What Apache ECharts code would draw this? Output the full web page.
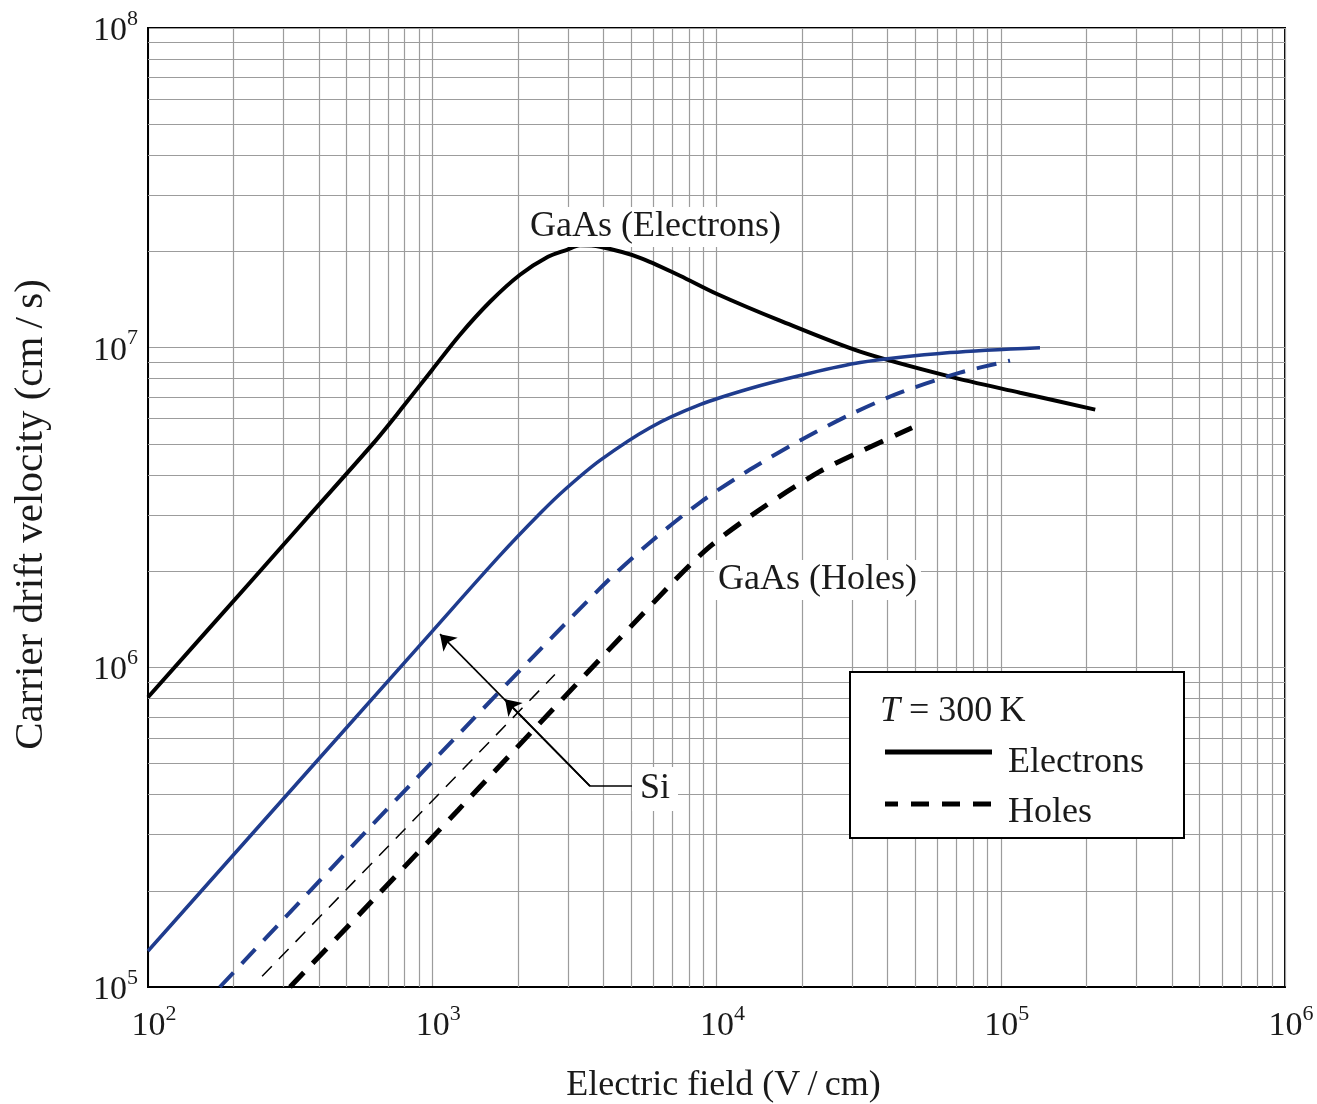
<!DOCTYPE html>
<html>
<head>
<meta charset="utf-8">
<script src="https://cdn.jsdelivr.net/npm/echarts@6/dist/echarts.min.js"></script>
<style>
  html, body { margin: 0; padding: 0; background: #fff; }
  #chart { width: 1317px; height: 1104px; }
</style>
</head>
<body>
<div id="chart"></div>
<script>
// Carrier drift velocity (cm/s) versus electric field (V/cm) at T = 300 K

// GaAs electrons
const gaasElectronField    = [100, 228.5, 372, 619, 770, 1000, 1252, 1597, 2036, 2554, 2979, 3310, 3892, 5381, 7440, 1e4, 1.673e4, 3.2e4, 6.63e4, 1.17e5, 2.15e5];
const gaasElectronVelocity = [8.06e5, 1.843e6, 3.007e6, 5.01e6, 6.356e6, 8.536e6, 1.098e7, 1.392e7, 1.691e7, 1.925e7, 2.024e7, 2.09e7, 2.068e7, 1.911e7, 1.679e7, 1.475e7, 1.215e7, 9.72e6, 8.12e6, 7.23e6, 6.40e6];

// Si electrons
const siElectronField    = [100, 1000, 1731, 2393, 2931, 3892, 5835, 8750, 1.312e4, 1.97e4, 3.2e4, 6.63e4, 1.374e5];
const siElectronVelocity = [1.296e5, 1.296e6, 2.239e6, 3.028e6, 3.6e6, 4.44e6, 5.62e6, 6.63e6, 7.45e6, 8.18e6, 8.98e6, 9.65e6, 1.0e7];

// Si holes
const siHoleField    = [179, 835, 3892, 5835, 8750, 1.312e4, 1.967e4, 2.949e4, 4.422e4, 7.19e4, 1.078e5];
const siHoleVelocity = [1e5, 4.28e5, 1.766e6, 2.458e6, 3.278e6, 4.156e6, 5.12e6, 6.175e6, 7.23e6, 8.35e6, 9.11e6];

// GaAs holes
const gaasHoleField    = [316, 614, 1232, 6750, 9490, 1.422e4, 2.313e4, 3.2e4, 4.873e4];
const gaasHoleVelocity = [1e5, 1.857e5, 3.574e5, 1.778e6, 2.389e6, 3.117e6, 4.1e6, 4.73e6, 5.62e6];

// thin dashed guide line
const guideField    = [252, 2700];
const guideVelocity = [1.08e5, 9.5e5];

// "Si" leader: label end -> bend, then bend -> arrow tips on the two Si curves
const siLabelEnd = [5300, 4.25e5];
const siBend     = [3590, 4.25e5];
const siTips     = [[1065, 1.27e6], [1803, 7.94e5]];

// axis decades and intermediate grid values
const xDecades = [2, 3, 4, 5, 6];
const yDecades = [5, 6, 7, 8];
const gridMantissas = [2, 3, 4, 5, 6, 7, 8, 9];

const FONT = "'Liberation Serif', 'DejaVu Serif', serif";
const TEXT = '#1a1a1a';
const BLUE = '#1f3c8e';
const GRID = '#9c9c9c';
const THIN = '\u2009';

const zip = (xs, ys) => xs.map((x, i) => [x, ys[i]]);

const xMinor = [], yMinor = [];
xDecades.slice(0, -1).forEach(d => gridMantissas.forEach(m => xMinor.push({ xAxis: m * Math.pow(10, d) })));
yDecades.slice(0, -1).forEach(d => gridMantissas.forEach(m => yMinor.push({ yAxis: m * Math.pow(10, d) })));

const xPowLabel = v => '{p|}{b|10}{s|' + Math.round(Math.log10(v)) + '}';
const yPowLabel = v => '{b|10}{s|' + Math.round(Math.log10(v)) + '}';
const powRich = {
  p: { width: 12 },
  b: { fontFamily: FONT, fontSize: 34, color: TEXT, lineHeight: 40, verticalAlign: 'bottom' },
  s: { fontFamily: FONT, fontSize: 22, color: TEXT, lineHeight: 22, verticalAlign: 'top' }
};

const curve = (name, xs, ys, color, width, dash) => ({
  name, type: 'line', data: zip(xs, ys),
  smooth: 0.3, showSymbol: false, z: 4,
  lineStyle: { color, width, type: dash || 'solid', cap: 'butt' }
});

const chart = echarts.init(document.getElementById('chart'), null, { renderer: 'canvas' });

chart.setOption({
  backgroundColor: '#fff',
  animation: false,
  grid: {
    left: 148, right: 32, top: 28, bottom: 117,
    containLabel: false, outerBoundsMode: 'none',
    show: true, borderColor: '#000', borderWidth: 2, backgroundColor: 'transparent'
  },
  xAxis: {
    type: 'log', logBase: 10,
    min: Math.pow(10, xDecades[0]), max: Math.pow(10, xDecades[xDecades.length - 1]),
    name: 'Electric field (V' + THIN + '/' + THIN + 'cm)',
    nameLocation: 'middle', nameGap: 81,
    nameTextStyle: { fontFamily: FONT, fontSize: 36, color: TEXT, padding: [0, 0, 0, 14] },
    axisLine: { show: true, lineStyle: { color: '#000', width: 2 } },
    axisTick: { show: false },
    axisLabel: { margin: 16, formatter: xPowLabel, rich: powRich, showMinLabel: true, showMaxLabel: true },
    splitLine: { show: true, lineStyle: { color: GRID, width: 1.2 } }
  },
  yAxis: {
    type: 'log', logBase: 10,
    min: Math.pow(10, yDecades[0]), max: Math.pow(10, yDecades[yDecades.length - 1]),
    name: 'Carrier drift velocity (cm' + THIN + '/' + THIN + 's)',
    nameLocation: 'middle', nameGap: 96, nameRotate: 90,
    nameTextStyle: { fontFamily: FONT, fontSize: 41, color: TEXT, padding: [0, 14, 0, 0] },
    axisLine: { show: true, lineStyle: { color: '#000', width: 2 } },
    axisTick: { show: false },
    axisLabel: { margin: 10, formatter: yPowLabel, rich: powRich, showMinLabel: true, showMaxLabel: true },
    splitLine: { show: true, lineStyle: { color: GRID, width: 1.2 } }
  },
  series: [
    {
      name: 'grid', type: 'line', data: [], silent: true,
      markLine: {
        silent: true, symbol: ['none', 'none'], z: 1,
        label: { show: false },
        lineStyle: { color: GRID, width: 1.2, type: 'solid' },
        emphasis: { disabled: true },
        data: xMinor.concat(yMinor)
      }
    },
    curve('GaAs electrons', gaasElectronField, gaasElectronVelocity, '#000', 4),
    curve('Si electrons', siElectronField, siElectronVelocity, BLUE, 3.5),
    curve('Si holes', siHoleField, siHoleVelocity, BLUE, 4, [20, 12]),
    curve('GaAs holes', gaasHoleField, gaasHoleVelocity, '#000', 5, [20, 13]),
    {
      name: 'guide', type: 'line', data: zip(guideField, guideVelocity),
      showSymbol: false, z: 4,
      lineStyle: { color: '#000', width: 1.5, type: [14, 10] }
    },
    {
      name: 'Si leader', type: 'lines', coordinateSystem: 'cartesian2d', z: 5,
      symbol: ['none', 'none'],
      lineStyle: { color: '#000', width: 1.6, opacity: 1, curveness: 0 },
      data: [{ coords: [siLabelEnd, siBend] }]
    },
    {
      name: 'Si arrows', type: 'lines', coordinateSystem: 'cartesian2d', z: 5,
      symbol: ['none', 'arrow'], symbolSize: 15,
      lineStyle: { color: '#000', width: 1.6, opacity: 1, curveness: 0 },
      data: siTips.map(t => ({ coords: [siBend, t] }))
    }
  ],
  graphic: [
    {
      type: 'text', x: 526, y: 227, z: 100,
      style: { text: 'GaAs (Electrons)', font: '36px ' + FONT, fill: TEXT,
               verticalAlign: 'middle', backgroundColor: '#fff', padding: [2, 4] }
    },
    {
      type: 'text', x: 714, y: 580, z: 100,
      style: { text: 'GaAs (Holes)', font: '36px ' + FONT, fill: TEXT,
               verticalAlign: 'middle', backgroundColor: '#fff', padding: [2, 4] }
    },
    {
      type: 'text', x: 632, y: 789, z: 100,
      style: { text: 'Si', font: '36px ' + FONT, fill: TEXT,
               verticalAlign: 'middle', backgroundColor: '#fff', padding: [4, 8] }
    },
    { type: 'rect', z: 100, shape: { x: 850, y: 672, width: 334, height: 166 },
      style: { fill: '#fff', stroke: '#000', lineWidth: 2 } },
    { type: 'text', x: 880, y: 712, z: 101,
      style: { text: '{i|T} = 300' + THIN + 'K', verticalAlign: 'middle', fill: TEXT, font: '36px ' + FONT,
               rich: { i: { fontFamily: FONT, fontSize: 36, fontStyle: 'italic', fill: TEXT } } } },
    { type: 'line', z: 101, shape: { x1: 885, y1: 752, x2: 992, y2: 752 },
      style: { stroke: '#000', lineWidth: 5 } },
    { type: 'text', x: 1008, y: 763, z: 101,
      style: { text: 'Electrons', verticalAlign: 'middle', fill: TEXT, font: '36px ' + FONT } },
    { type: 'line', z: 101, shape: { x1: 885, y1: 804, x2: 992, y2: 804 },
      style: { stroke: '#000', lineWidth: 5, lineDash: [18, 13], lineDashOffset: 5 } },
    { type: 'text', x: 1008, y: 813, z: 101,
      style: { text: 'Holes', verticalAlign: 'middle', fill: TEXT, font: '36px ' + FONT } }
  ]
});
</script>
</body>
</html>
